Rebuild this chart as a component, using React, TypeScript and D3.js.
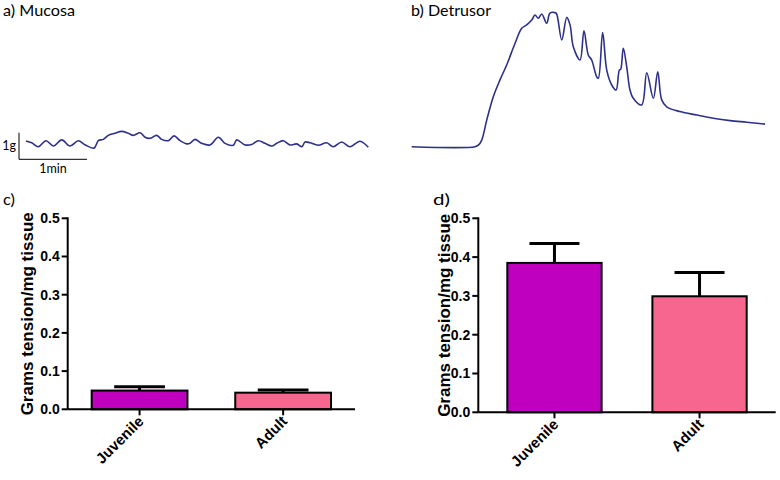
import * as d3 from "d3";

// a) Mucosa trace: time (s), tension (g)
const mucosaTime = [6.2, 11.2, 17.0, 23.8, 30.3, 37.7, 45.0, 52.3, 58.2, 66.2, 70.0, 74.4, 78.8, 84.7, 90.6, 96.4, 100.9, 106.8, 111.2, 115.6, 121.5, 125.9, 131.7, 136.8, 142.1, 148.0, 150.9, 155.3, 161.2, 168.5, 175.9, 181.8, 189.1, 192.1, 199.4, 205.3, 211.2, 217.1, 223.0, 227.4, 233.2, 239.1, 245.0, 249.5, 252.4, 256.8, 264.1, 271.5, 277.3, 284.7, 292.1, 300.9, 308.2];
const mucosaTension = [0.69, 0.62, 0.47, 0.70, 0.50, 0.73, 0.50, 0.70, 0.55, 0.42, 0.70, 0.75, 0.90, 0.98, 1.05, 0.98, 0.90, 1.00, 0.83, 0.79, 0.90, 0.75, 0.70, 0.88, 0.70, 0.58, 0.60, 0.75, 0.60, 0.54, 0.83, 0.60, 0.53, 0.73, 0.54, 0.56, 0.70, 0.60, 0.50, 0.60, 0.70, 0.54, 0.58, 0.47, 0.65, 0.62, 0.53, 0.62, 0.47, 0.65, 0.47, 0.68, 0.45];

// b) Detrusor trace: time (s), tension (g)
const detrusorTime = [0, 55.9, 58.8, 61.8, 66.2, 72.0, 77.9, 83.8, 91.2, 97.1, 101.5, 105.9, 108.8, 111.7, 114.7, 119.1, 122.0, 126.4, 127.9, 132.4, 136.8, 139.7, 142.6, 148.5, 152.0, 155.8, 158.8, 163.2, 164.7, 168.5, 172.1, 176.5, 180.3, 183.2, 184.4, 186.7, 189.7, 192.6, 195.5, 202.9, 207.4, 213.2, 217.1, 220.6, 225.0, 236.7, 251.5, 266.1, 280.9, 295.6, 311.8];
const detrusorTension = [0, 0, 0.06, 0.25, 1.00, 1.88, 2.51, 3.07, 3.89, 4.45, 4.58, 4.76, 4.95, 4.83, 4.99, 4.64, 5.02, 5.04, 4.99, 4.01, 4.86, 4.58, 3.76, 3.26, 4.36, 3.45, 3.26, 2.63, 2.57, 4.29, 2.88, 2.32, 2.13, 2.88, 2.91, 3.70, 3.01, 2.13, 1.82, 1.57, 2.78, 1.82, 2.82, 1.76, 1.50, 1.32, 1.19, 1.07, 0.98, 0.92, 0.85];

// c) / d) bar charts
const groups = ["Juvenile", "Adult"];
const mucosaMean = [0.049, 0.0435];
const mucosaSem = [0.010, 0.007];
const detrusorMean = [0.385, 0.299];
const detrusorSem = [0.050, 0.061];
const yTicks = [0, 0.1, 0.2, 0.3, 0.4, 0.5];

const barColors = ["#BF00BF", "#F7668F"];
const traceColor = "#2E3189";
const panelFont = "Lato, 'Open Sans', sans-serif";
const axisFont = "'Liberation Sans', Arial, sans-serif";

const pxPerMin = 68;
const pxPerGram = 26.6;

function Trace({ time, tension, x0, y0 }) {
  const x = d3.scaleLinear().domain([0, 60]).range([x0, x0 + pxPerMin]);
  const y = d3.scaleLinear().domain([0, 1]).range([y0, y0 - pxPerGram]);
  const line = d3
    .line()
    .x((d) => x(d[0]))
    .y((d) => y(d[1]))
    .curve(d3.curveCatmullRom.alpha(0.5));
  const pts = time.map((t, i) => [t, tension[i]]);
  return <path d={line(pts)} fill="none" stroke={traceColor} strokeWidth={1.6} strokeLinejoin="round" />;
}

function PanelLabel({ x, y, width, children }) {
  return (
    <text x={x} y={y} fontFamily={panelFont} fontSize={15} textLength={width} lengthAdjust="spacingAndGlyphs">
      {children}
    </text>
  );
}

function BarPanel({ means, sems, left, right, top, bottom, padInner, padOuter, labelX }) {
  const x = d3.scaleBand().domain(groups).range([left, right]).paddingInner(padInner).paddingOuter(padOuter);
  const y = d3.scaleLinear().domain([0, 0.5]).range([bottom, top]);
  const capW = x.bandwidth() * 0.53;
  return (
    <g>
      {groups.map((g, i) => {
        const cx = x(g) + x.bandwidth() / 2;
        return (
          <g key={g}>
            <line x1={cx} x2={cx} y1={y(means[i])} y2={y(means[i] + sems[i])} stroke="#000" strokeWidth={3} />
            <line x1={cx - capW / 2} x2={cx + capW / 2} y1={y(means[i] + sems[i])} y2={y(means[i] + sems[i])} stroke="#000" strokeWidth={3} />
            <rect x={x(g)} y={y(means[i])} width={x.bandwidth()} height={y(0) - y(means[i])} fill={barColors[i]} stroke="#000" strokeWidth={2} />
            <line x1={cx} x2={cx} y1={y(0)} y2={y(0) + 6} stroke="#000" strokeWidth={2} />
            <text
              transform={`translate(${cx + 5},${y(0) + 13}) rotate(-45)`}
              textAnchor="end"
              fontFamily={axisFont}
              fontWeight="bold"
              fontSize={15}
            >
              {g}
            </text>
          </g>
        );
      })}
      <line x1={left} x2={right} y1={y(0)} y2={y(0)} stroke="#000" strokeWidth={2} />
      <line x1={left} x2={left} y1={y(0)} y2={y(0.5) - 1} stroke="#000" strokeWidth={2} />
      {yTicks.map((t) => (
        <g key={t}>
          <line x1={left - 6} x2={left} y1={y(t)} y2={y(t)} stroke="#000" strokeWidth={2} />
          <text x={left - 8} y={y(t)} dy="0.35em" textAnchor="end" fontFamily={axisFont} fontWeight="bold" fontSize={14}>
            {t.toFixed(1)}
          </text>
        </g>
      ))}
      <text
        transform={`translate(${labelX},${(top + bottom) / 2}) rotate(-90)`}
        textAnchor="middle"
        fontFamily={axisFont}
        fontWeight="bold"
        fontSize={17}
      >
        Grams tension/mg tissue
      </text>
    </g>
  );
}

export default function App() {
  return (
    <svg width={780} height={480} style={{ position: "absolute", left: 0, top: 0, background: "#fff" }}>
      {/* a) Mucosa */}
      <PanelLabel x={3} y={16} width={72}>a) Mucosa</PanelLabel>
      <Trace time={mucosaTime} tension={mucosaTension} x0={19} y0={159.3} />
      <line x1={19} x2={19} y1={159.3 - pxPerGram} y2={159.3} stroke="#000" strokeWidth={1} />
      <line x1={19} x2={19 + pxPerMin} y1={159.3} y2={159.3} stroke="#000" strokeWidth={1} />
      <text x={16} y={150} textAnchor="end" fontFamily={panelFont} fontSize={12.5}>1g</text>
      <text x={53} y={173} textAnchor="middle" fontFamily={panelFont} fontSize={12.5}>1min</text>

      {/* b) Detrusor */}
      <PanelLabel x={411} y={16} width={80}>b) Detrusor</PanelLabel>
      <Trace time={detrusorTime} tension={detrusorTension} x0={411.7} y0={146.7} />

      {/* c) */}
      <PanelLabel x={3} y={205} width={12}>c)</PanelLabel>
      <BarPanel means={mucosaMean} sems={mucosaSem} left={67.7} right={355} top={218.3} bottom={409.3} padInner={0.333} padOuter={0.167} labelX={33} />

      {/* d) */}
      <PanelLabel x={433} y={205} width={17}>d)</PanelLabel>
      <BarPanel means={detrusorMean} sems={detrusorSem} left={478.3} right={775.7} top={218.3} bottom={412.3} padInner={0.35} padOuter={0.2} labelX={449.5} />
    </svg>
  );
}
